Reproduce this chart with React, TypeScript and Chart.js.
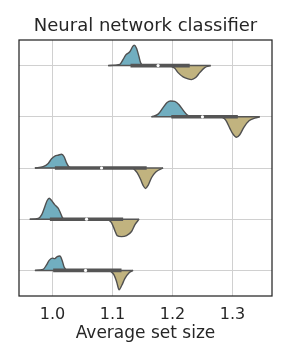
import React, { useEffect, useRef } from "react";
import { Chart, registerables } from "chart.js";

Chart.register(...registerables);

// Five rows (top to bottom); x values of the split-violin outlines and their heights
// (heights in units of row spacing).
const blueX = [
  [1.0927, 1.1122, 1.1177, 1.1222, 1.1288, 1.1333, 1.136, 1.14, 1.1438, 1.1467, 1.15],
  [1.165, 1.176, 1.1843, 1.191, 1.1967, 1.2038, 1.211, 1.2177, 1.2243, 1.2317],
  [0.9705, 0.9843, 0.9927, 0.9983, 1.0038, 1.0093, 1.015, 1.0193, 1.0233, 1.0272, 1.0317],
  [0.962, 0.976, 0.9817, 0.9872, 0.991, 0.9943, 0.9983, 1.0038, 1.0093, 1.0133, 1.0167, 1.0205],
  [0.9705, 0.9843, 0.99, 0.9943, 0.9993, 1.0038, 1.0077, 1.0122, 1.016, 1.0193, 1.0233],
];
const blueH = [
  [0, 0.025, 0.12, 0.21, 0.27, 0.365, 0.4, 0.34, 0.19, 0.06, 0],
  [0, 0.052, 0.18, 0.28, 0.31, 0.3, 0.234, 0.13, 0.04, 0],
  [0, 0.026, 0.09, 0.18, 0.234, 0.25, 0.27, 0.22, 0.1, 0.026, 0],
  [0, 0.014, 0.084, 0.25, 0.365, 0.41, 0.365, 0.28, 0.215, 0.117, 0.026, 0],
  [0, 0.02, 0.11, 0.195, 0.24, 0.23, 0.27, 0.28, 0.195, 0.065, 0],
];
const khakiX = [
  [1.1955, 1.2038, 1.2093, 1.2177, 1.226, 1.2317, 1.2388, 1.2455, 1.2538, 1.2638],
  [1.2817, 1.2888, 1.2955, 1.301, 1.3067, 1.3122, 1.3188, 1.3277, 1.3372, 1.3455],
  [1.1343, 1.141, 1.1467, 1.151, 1.155, 1.1593, 1.165, 1.1722, 1.1843],
  [1.091, 1.0983, 1.1038, 1.1077, 1.115, 1.1233, 1.1317, 1.1372, 1.1443],
  [1.0955, 1.1022, 1.1067, 1.111, 1.1155, 1.1205, 1.1277, 1.1343],
];
const khakiH = [
  [0, 0.053, 0.137, 0.22, 0.26, 0.273, 0.234, 0.137, 0.039, 0],
  [0, 0.065, 0.22, 0.34, 0.4, 0.35, 0.21, 0.078, 0.026, 0],
  [0, 0.09, 0.22, 0.34, 0.4, 0.34, 0.19, 0.078, 0],
  [0, 0.065, 0.22, 0.32, 0.34, 0.32, 0.24, 0.11, 0],
  [0, 0.084, 0.215, 0.377, 0.29, 0.16, 0.045, 0],
];
// Box summary per row
const q1 = [1.13, 1.198, 1.0038, 0.9955, 1.001];
const q3 = [1.2288, 1.309, 1.157, 1.1177, 1.115];
const medians = [1.176, 1.25, 1.0817, 1.0567, 1.055];
const whiskerLo = [1.0927, 1.165, 0.9705, 0.962, 0.9705];
const whiskerHi = [1.2638, 1.3455, 1.1843, 1.1443, 1.1343];

const xTicks = [1.0, 1.1, 1.2, 1.3];
const rowTicks = [0, 1, 2, 3, 4];
const titleText = "Neural network classifier";
const xTitle = "Average set size";

const BLUE = "#71aec0";
const KHAKI = "#c1b37f";
const OUTLINE = "#505050";
const BOX = "#555555";
const FONT = "'DejaVu Sans', sans-serif";

const frame = {
  id: "frame",
  afterDatasetsDraw(chart: any) {
    const { ctx, chartArea } = chart;
    ctx.save();
    ctx.strokeStyle = "#262626";
    ctx.lineWidth = 1.25;
    ctx.strokeRect(chartArea.left, chartArea.top, chartArea.right - chartArea.left, chartArea.bottom - chartArea.top);
    ctx.restore();
  },
};

export default function App() {
  const ref = useRef<HTMLCanvasElement | null>(null);
  useEffect(() => {
    if (!ref.current) return;
    const datasets: any[] = [];
    for (let i = 0; i < 5; i++) {
      datasets.push({
        data: [{ x: medians[i], y: i }],
        showLine: false,
        pointRadius: 1.6,
        pointBackgroundColor: "#ffffff",
        pointBorderWidth: 0,
        order: 0,
      });
      datasets.push({
        data: [{ x: q1[i], y: i }, { x: q3[i], y: i }],
        showLine: true,
        borderColor: BOX,
        borderWidth: 3.6,
        borderCapStyle: "butt",
        pointRadius: 0,
        order: 1,
      });
      datasets.push({
        data: [{ x: whiskerLo[i], y: i }, { x: whiskerHi[i], y: i }],
        showLine: true,
        borderColor: BOX,
        borderWidth: 1.5,
        pointRadius: 0,
        order: 2,
      });
      datasets.push({
        data: blueX[i].map((x, k) => ({ x, y: i - blueH[i][k] })),
        showLine: true,
        borderColor: OUTLINE,
        borderWidth: 1.4,
        backgroundColor: BLUE,
        fill: { value: i },
        cubicInterpolationMode: "monotone",
        pointRadius: 0,
        order: 3,
      });
      datasets.push({
        data: khakiX[i].map((x, k) => ({ x, y: i + khakiH[i][k] })),
        showLine: true,
        borderColor: OUTLINE,
        borderWidth: 1.4,
        backgroundColor: KHAKI,
        fill: { value: i },
        cubicInterpolationMode: "monotone",
        pointRadius: 0,
        order: 3,
      });
    }
    const chart = new Chart(ref.current, {
      type: "scatter",
      data: { datasets },
      plugins: [frame],
      options: {
        animation: false,
        responsive: false,
        devicePixelRatio: 1,
        layout: { padding: { left: 19, right: 19, top: 0, bottom: 0 } },
        plugins: {
          legend: { display: false },
          tooltip: { enabled: false },
          title: {
            display: true,
            text: titleText,
            color: "#262626",
            font: { family: FONT, size: 18, weight: "normal" },
            padding: { top: 15.2, bottom: 3.2 },
          },
        },
        scales: {
          x: {
            type: "linear",
            min: 0.944,
            max: 1.366,
            afterBuildTicks: (s: any) => {
              s.ticks = xTicks.map((v) => ({ value: v }));
            },
            ticks: {
              color: "#262626",
              font: { family: FONT, size: 16 },
              padding: 9,
              maxRotation: 0,
              callback: (v: any) => Number(v).toFixed(1),
            },
            grid: { color: "#d0d0d0", lineWidth: 1, drawTicks: false },
            border: { display: false },
            title: {
              display: true,
              text: xTitle,
              color: "#262626",
              font: { family: FONT, size: 17 },
              padding: { top: -9.4, bottom: 18.8 },
            },
          },
          y: {
            type: "linear",
            min: -0.5,
            max: 4.5,
            reverse: true,
            afterBuildTicks: (s: any) => {
              s.ticks = rowTicks.map((v) => ({ value: v }));
            },
            ticks: { display: false },
            grid: { color: "#d0d0d0", lineWidth: 1, drawTicks: false },
            border: { display: false },
          },
        },
      } as any,
    });
    return () => chart.destroy();
  }, []);
  return (
    <div style={{ position: "absolute", left: 0, top: 0, width: 291, height: 363, background: "#ffffff" }}>
      <canvas ref={ref} width={291} height={363} />
    </div>
  );
}
